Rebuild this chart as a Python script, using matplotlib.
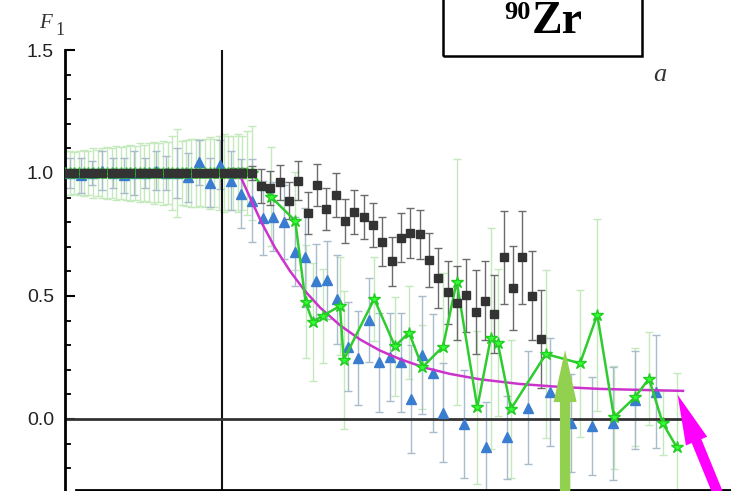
import numpy as np
import matplotlib.pyplot as plt
from matplotlib.patches import Rectangle
from matplotlib.ticker import MultipleLocator, FormatStrFormatter

plt.rcParams['font.family'] = ['Liberation Sans', 'DejaVu Sans']

# --- black squares (channel, F1, error) ---
sq_x = [0, 1, 2, 3, 4, 5, 6, 7, 8, 9, 10, 11, 12, 13, 14, 15, 16, 17, 18, 19, 20,
        21, 22, 23, 24, 25, 26, 27, 28, 29, 30, 31, 32, 33, 34, 35, 36, 37, 38, 39, 40,
        41, 42, 43, 44, 45, 46, 47, 48, 49, 50, 51]
sq_f = [1.0, 1.0, 1.0, 1.0, 1.0, 1.0, 1.0, 1.0, 1.0, 1.0, 1.0, 1.0, 1.0, 1.0, 1.0, 1.0,
        1.0, 1.0, 1.0, 1.0, 1.0,
        0.947, 0.938, 0.962, 0.887, 0.969, 0.836, 0.951, 0.852, 0.911, 0.805, 0.841,
        0.821, 0.787, 0.720, 0.641, 0.737, 0.756, 0.751, 0.646, 0.573, 0.514, 0.472,
        0.502, 0.435, 0.481, 0.426, 0.657, 0.533, 0.657, 0.501, 0.324]
sq_err = [0.015, 0.015, 0.015, 0.015, 0.015, 0.015, 0.015, 0.015, 0.015, 0.015, 0.015,
          0.015, 0.015, 0.015, 0.015, 0.015, 0.015, 0.015, 0.02, 0.02, 0.03,
          0.07, 0.07, 0.07, 0.075, 0.08, 0.085, 0.085, 0.085, 0.09, 0.09, 0.09,
          0.09, 0.09, 0.1, 0.1, 0.1, 0.1, 0.1, 0.11, 0.12, 0.13, 0.15, 0.15, 0.17,
          0.16, 0.16, 0.19, 0.17, 0.19, 0.18, 0.2]

# --- green stars ---
st_x = [0.0, 0.5, 1.0, 1.5, 2.0, 2.5, 3.0, 3.5, 4.0, 4.5, 5.0, 5.5, 6.0, 6.5, 7.0, 7.5,
        8.0, 8.5, 9.0, 9.5, 10.0, 10.5, 11.0, 11.5, 12.0, 12.5, 13.0, 13.5, 14.0, 14.5,
        15.0, 15.5, 16.0, 16.5, 17.0, 17.5, 18.0, 18.5, 19.0, 19.5, 20.0,
        22.05, 24.68, 25.78, 26.55, 27.60, 29.47, 29.87, 33.14, 35.37, 36.87, 38.30,
        40.51, 41.98, 44.19, 45.63, 46.38, 47.80, 51.55, 55.20, 57.05, 58.84, 61.09,
        62.59, 64.06, 65.56]
st_f = [1.0, 1.0, 1.0, 1.0, 1.0, 1.0, 1.0, 1.0, 1.0, 1.0, 1.0, 1.0, 1.0, 1.0, 1.0, 1.0,
        1.0, 1.0, 1.0, 1.0, 1.0, 1.0, 1.0, 1.0, 1.0, 1.0, 1.0, 1.0, 1.0, 1.0, 1.0, 1.0,
        1.0, 1.0, 1.0, 1.0, 1.0, 1.0, 1.0, 1.0, 1.0,
        0.904, 0.805, 0.476, 0.394, 0.419, 0.459, 0.240, 0.488, 0.295, 0.351, 0.210,
        0.294, 0.558, 0.047, 0.328, 0.310, 0.041, 0.264, 0.226, 0.423, 0.007, 0.088,
        0.164, -0.017, -0.115]
st_err = [0.09, 0.09, 0.085, 0.09, 0.095, 0.09, 0.1, 0.095, 0.1, 0.105, 0.1, 0.11,
          0.105, 0.11, 0.115, 0.11, 0.12, 0.115, 0.12, 0.125, 0.12, 0.13, 0.125, 0.15,
          0.18, 0.13, 0.135, 0.14, 0.14, 0.135, 0.14, 0.145, 0.14, 0.15, 0.16, 0.15,
          0.15, 0.16, 0.15, 0.17, 0.19,
          0.2, 0.2, 0.23, 0.24, 0.19, 0.2, 0.28, 0.17, 0.2, 0.19, 0.17,
          0.3, 0.5, 0.31, 0.45, 0.3, 0.28, 0.34, 0.3, 0.39, 0.21, 0.2,
          0.19, 0.13, 0.3]

# --- blue triangles ---
tr_x = [0.57, 1.71, 2.86, 4.0, 5.14, 6.29, 7.43, 8.57, 9.72, 10.86, 12.0, 13.15, 14.36,
        15.51, 16.61, 17.79, 18.9, 20.04, 21.19, 22.33, 23.47, 24.62, 25.76, 26.9,
        28.05, 29.12, 30.28, 31.4, 32.6, 33.69, 34.83, 35.98, 37.12, 38.26, 39.41,
        40.55, 42.8, 45.12, 47.41, 49.66, 51.95, 54.23, 56.52, 58.77, 61.09, 63.34]
tr_f = [1.0, 0.99, 1.0, 1.01, 1.0, 0.99, 1.0, 1.0, 1.01, 1.0, 1.0, 0.983, 1.043,
        0.961, 1.033, 0.969, 0.915, 0.888, 0.817, 0.822, 0.802, 0.680, 0.657, 0.561,
        0.565, 0.486, 0.294, 0.247, 0.402, 0.230, 0.251, 0.230, 0.081, 0.260, 0.186,
        0.026, -0.020, -0.113, -0.075, 0.046, 0.110, -0.017, -0.028, -0.017, 0.077,
        0.111]
tr_err = [0.06, 0.07, 0.05, 0.08, 0.06, 0.07, 0.09, 0.06, 0.08, 0.07, 0.1, 0.1, 0.09,
          0.1, 0.1, 0.12, 0.14, 0.17, 0.15, 0.14, 0.15, 0.14, 0.2, 0.15, 0.16, 0.18,
          0.18, 0.19, 0.17, 0.2, 0.18, 0.2, 0.22, 0.24, 0.24, 0.2, 0.22, 0.18, 0.17,
          0.23, 0.22, 0.2, 0.2, 0.23, 0.2, 0.23]

# --- fitted curve ---
fit_x = [18.3, 18.76, 19.83, 21.11, 22.51, 24.12, 25.72, 27.33, 29.47, 31.62, 33.76,
         35.91, 38.59, 41.26, 44.48, 48.77, 53.05, 57.34, 61.63, 66.24]
fit_f = [1.0, 0.99, 0.90, 0.795, 0.696, 0.601, 0.520, 0.453, 0.381, 0.323, 0.278,
         0.243, 0.208, 0.183, 0.161, 0.142, 0.130, 0.122, 0.118, 0.114]

W, H = 731, 491
fig = plt.figure(figsize=(W / 100, H / 100), dpi=100)
ax = fig.add_axes([65 / W, 1.5 / H, 1 - 65 / W, (H - 50 - 1.5) / H])
ax.set_xlim(0, 71.38)
ax.set_ylim(-0.287, 1.5)

ax.errorbar(st_x, st_f, yerr=st_err, fmt='none', ecolor='#c4e9bc', elinewidth=1,
            capsize=3, capthick=1, zorder=1)
ax.errorbar(tr_x, tr_f, yerr=tr_err, fmt='none', ecolor='#a9bccb', elinewidth=1,
            capsize=3, capthick=1, zorder=1.5)
ax.errorbar(sq_x, sq_f, yerr=sq_err, fmt='none', ecolor='#6b6b6b', elinewidth=1,
            capsize=3, capthick=1, zorder=2)

ax.axvline(16.83, color='#111111', lw=1.5, zorder=2.5)
ax.hlines(0, 0, 66.1, color='#333333', lw=2, zorder=2.5)

ax.plot(tr_x, tr_f, '^', color='#3a7ccf', ms=7.5, zorder=3)
ax.plot(fit_x, fit_f, '-', color='#cc33cc', lw=1.8, zorder=3.2)
ax.plot(st_x, st_f, '-*', color='#2ecc2e', lw=1.8, ms=9, mfc='#33ff33', mec='#22cc22',
        zorder=3.5)
ax.plot(sq_x, sq_f, 's', color='#333333', ms=5.3, zorder=4)

# arrows
ax.annotate('', xy=(53.6, 0.28), xytext=(53.6, -0.42), annotation_clip=False,
            arrowprops=dict(arrowstyle='simple,head_length=2.6,head_width=1.15,tail_width=0.52',
                            fc='#92d050', ec='none', shrinkA=0, shrinkB=0,
                            mutation_scale=14.4), zorder=6)
ax.annotate('', xy=(65.66, 0.098), xytext=(70.7, -0.37), annotation_clip=False,
            arrowprops=dict(arrowstyle='simple,head_length=2.5,head_width=1.15,tail_width=0.52',
                            fc='#ff00ff', ec='none', shrinkA=0, shrinkB=0,
                            mutation_scale=14.4), zorder=6)

# axes styling
for s in ['top', 'right']:
    ax.spines[s].set_visible(False)
ax.spines['left'].set_linewidth(2)
ax.spines['bottom'].set_linewidth(2)
ax.spines['bottom'].set_bounds(1.18, 71.38)
ax.set_xticks([])
ax.set_yticks([0.0, 0.5, 1.0, 1.5])
ax.yaxis.set_major_formatter(FormatStrFormatter('%.1f'))
ax.yaxis.set_minor_locator(MultipleLocator(0.1))
ax.tick_params(axis='y', which='major', direction='in', length=7.5, width=1.5, pad=8,
               labelsize=14, labelcolor='#222222')
ax.tick_params(axis='y', which='minor', direction='in', length=4, width=1.3)

# labels
fig.text(39 / W, 1 - 28 / H, 'F', family='Liberation Serif', style='italic',
         fontsize=15, color='#333333', va='baseline')
fig.text(55 / W, 1 - 35 / H, '1', family='Liberation Serif', fontsize=13,
         color='#333333', va='baseline')
fig.text(653 / W, 1 - 81 / H, 'a', family='Liberation Serif', style='italic',
         fontsize=19, color='#333333', va='baseline')

fig.add_artist(Rectangle((443 / W, 1 - 56 / H), 199 / W, 70 / H, transform=fig.transFigure,
                         fill=False, lw=1.8, ec='black', clip_on=False))
fig.text(531.5 / W, 1 - 33 / H, 'Zr', family='Liberation Serif', fontweight='bold',
         fontsize=33, ha='left', va='baseline')
fig.text(531 / W, 1 - 19 / H, '90', family='Liberation Serif', fontweight='bold',
         fontsize=19, ha='right', va='baseline')

fig.savefig('out.png', dpi=100)
